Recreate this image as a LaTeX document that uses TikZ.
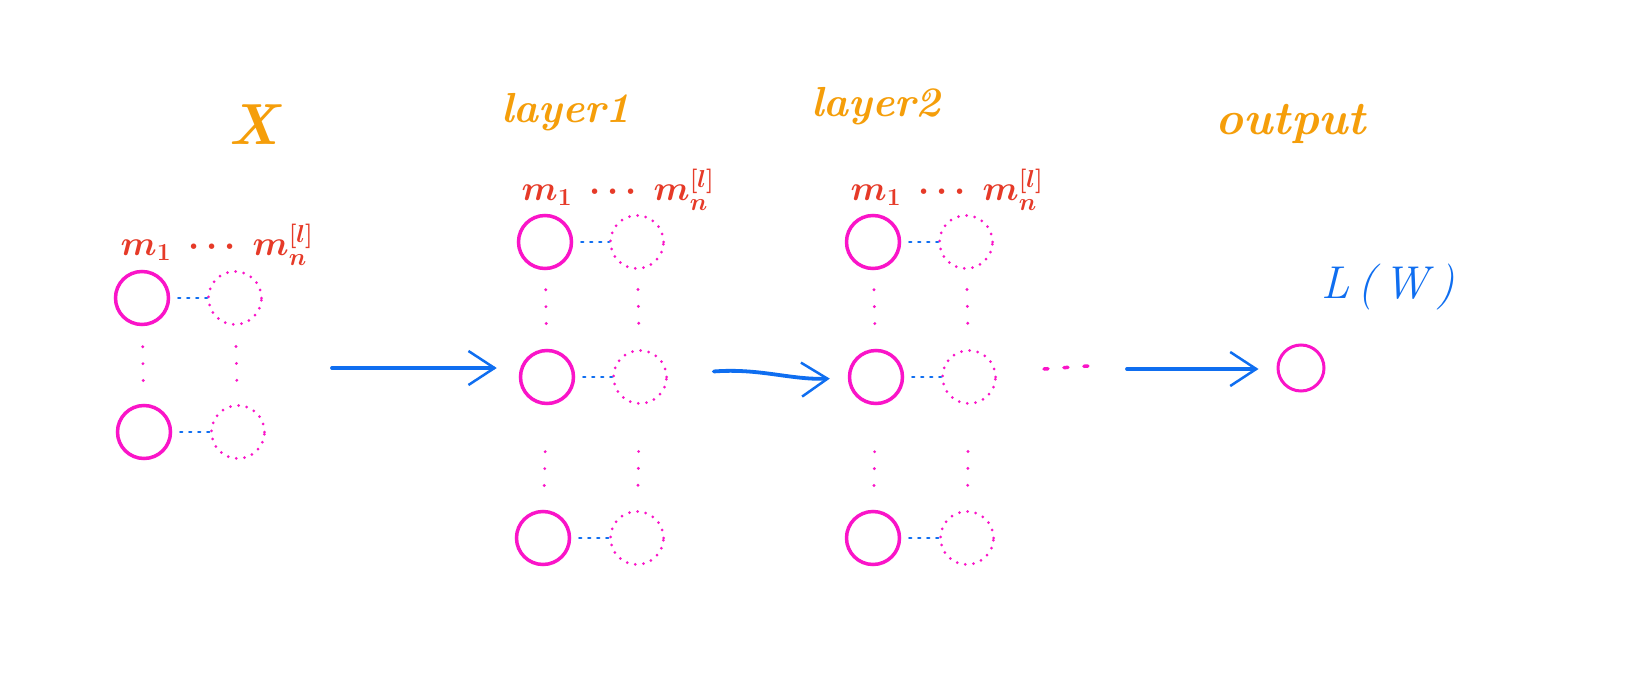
\RequirePackage{fix-cm}
\documentclass[tikz,border=0pt]{standalone}
\usetikzlibrary{arrows.meta}
\definecolor{hworange}{RGB}{245,158,10}
\definecolor{hwred}{RGB}{230,58,40}
\definecolor{hwpink}{RGB}{250,20,200}
\definecolor{hwblue}{RGB}{15,110,240}
\begin{document}
\begin{tikzpicture}[x=1pt,y=-1pt,
  neuron/.style={circle, draw=hwpink, line width=3.5pt, inner sep=0pt, minimum size=53pt},
  ghost/.style={circle, draw=hwpink, line width=3pt, inner sep=0pt, minimum size=53pt,
                dash pattern=on 0pt off 8.2pt, line cap=round},
  outneuron/.style={circle, draw=hwpink, line width=3pt, inner sep=0pt, minimum size=46pt},
  link/.style={draw=hwblue, line width=2.5pt, line cap=round, dash pattern=on 2pt off 7pt, shorten <=8pt},
  vdots/.style={draw=hwpink, line width=3.2pt, line cap=round, dash pattern=on 0pt off 16.9pt},
  flow/.style={draw=hwblue, line width=3.8pt, line cap=round,
               -{Straight Barb[length=26pt,width=34pt,line width=2.5pt]}},
  title/.style={text=hworange, font=\fontsize{42}{48}\selectfont\bfseries\itshape, inner sep=0pt},
  sizes/.style={text=hwred, font=\fontsize{35}{40}\selectfont\boldmath, inner sep=0pt},
]
\useasboundingbox[fill=white] (0,0) rectangle (1628,696);

% ---------- input X ----------
\node[title, font=\fontsize{58}{64}\selectfont\bfseries\itshape] (tx) at (254,125) {X};
\node[sizes] (sx) at (217,245) {$m_1\ \cdots\ m_n^{[l]}$};
\node[neuron] (x1) at (142,298) {};
\node[ghost]  (x1d) at (235,298) {};
\node[neuron] (x2) at (144,432) {};
\node[ghost]  (x2d) at (238,432) {};
\draw[link] (x1) -- (x1d);
\draw[link] (x2) -- (x2d);
\draw[vdots, shorten <=20.5pt, shorten >=22.5pt] (x1) -- (x2);
\draw[vdots, shorten <=20.5pt, shorten >=22.5pt] (x1d) -- (x2d);

% ---------- layer 1 ----------
\node[title] (t1) at (566,112) {layer1};
\node[sizes] (s1) at (618,190) {$m_1\ \cdots\ m_n^{[l]}$};
\node[neuron] (a1) at (545,242) {};
\node[ghost]  (a1d) at (637,242) {};
\node[neuron] (a2) at (547,377) {};
\node[ghost]  (a2d) at (640,377) {};
\node[neuron] (a3) at (543,538) {};
\node[ghost]  (a3d) at (637,538) {};
\draw[link] (a1) -- (a1d);
\draw[link] (a2) -- (a2d);
\draw[link] (a3) -- (a3d);
\draw[vdots, shorten <=19.5pt, shorten >=23.5pt] (a1) -- (a2);
\draw[vdots, shorten <=19.5pt, shorten >=23.5pt] (a1d) -- (a2d);
\draw[vdots, shorten <=46.5pt, shorten >=23.5pt] (a2) -- (a3);
\draw[vdots, shorten <=46.5pt, shorten >=23.5pt] (a2d) -- (a3d);

% ---------- layer 2 ----------
\node[title] (t2) at (876,106) {layer2};
\node[sizes] (s2) at (947,190) {$m_1\ \cdots\ m_n^{[l]}$};
\node[neuron] (b1) at (873,242) {};
\node[ghost]  (b1d) at (966,242) {};
\node[neuron] (b2) at (876,377) {};
\node[ghost]  (b2d) at (969,377) {};
\node[neuron] (b3) at (873,538) {};
\node[ghost]  (b3d) at (967,538) {};
\draw[link] (b1) -- (b1d);
\draw[link] (b2) -- (b2d);
\draw[link] (b3) -- (b3d);
\draw[vdots, shorten <=19.5pt, shorten >=23.5pt] (b1) -- (b2);
\draw[vdots, shorten <=19.5pt, shorten >=23.5pt] (b1d) -- (b2d);
\draw[vdots, shorten <=46.5pt, shorten >=23.5pt] (b2) -- (b3);
\draw[vdots, shorten <=46.5pt, shorten >=23.5pt] (b2d) -- (b3d);

% ---------- output ----------
\node[title, font=\fontsize{47}{53}\selectfont\bfseries\itshape] (to) at (1291,124) {output};
\node[text=hwblue, font=\fontsize{46}{52}\selectfont\itshape, inner sep=0pt] (lw) at (1388,287) {L\,(\,W\,)};
\node[outneuron] (o) at (1301,368) {};

% ---------- flow arrows ----------
\coordinate (f0) at (332,368);
\draw[flow, shorten >=22pt] (f0) -- (f0 -| a2.west);
\draw[flow, shorten <=46pt, shorten >=18pt] (a2d) .. controls (760,368) and (790,380) .. (b2);
\coordinate (e1) at (1044,369);
\coordinate (e2) at (1088,366);
\draw[draw=hwpink, line width=3.5pt, line cap=round, dash pattern=on 4pt off 16pt] (e1) -- (e2);
\coordinate (f3) at (1127,369);
\draw[flow, shorten >=18pt] (f3) -- (f3 -| o.west);
\end{tikzpicture}
\end{document}
